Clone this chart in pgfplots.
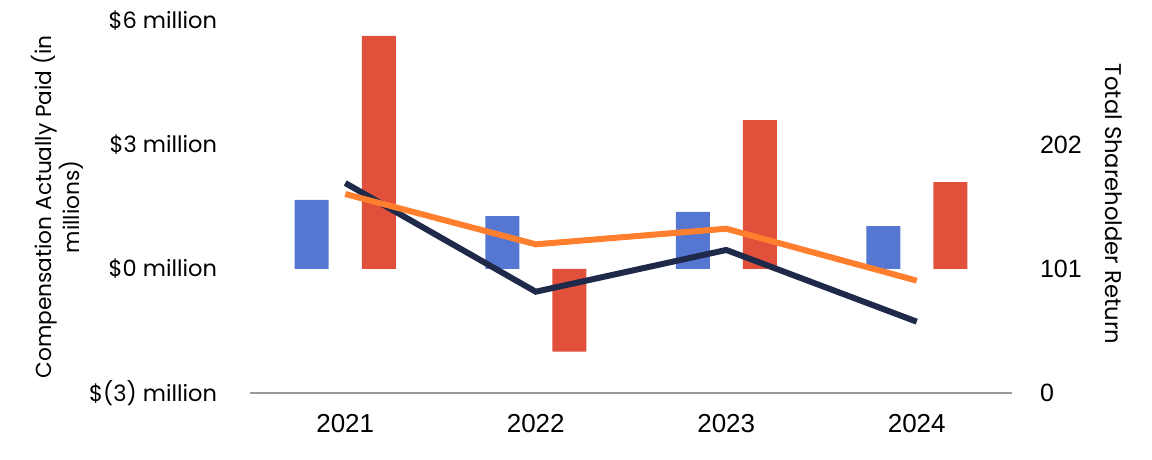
\documentclass[border=0pt]{standalone}
\usepackage{fontspec}
\setmainfont{Poppins}
\newfontfamily\numfont{Liberation Sans}
\usepackage{pgfplots}
\pgfplotsset{compat=1.18}
\definecolor{cblue}{HTML}{5577D1}
\definecolor{cred}{HTML}{E0503A}
\definecolor{cnavy}{HTML}{1F2A4B}
\definecolor{corange}{HTML}{FF7F2F}
\begin{document}
\begin{tikzpicture}
\path[use as bounding box] (0,0) rectangle (1152pt,460pt);
\pgfplotsset{
  every axis/.append style={
    scale only axis, width=762pt, height=372pt,
    at={(250pt,67pt)}, anchor=south west,
    xmin=-0.5, xmax=3.5, clip=false,
    major tick length=0pt, tick style={draw=none},
    /pgf/number format/assume math mode=true,
    font=\fontsize{22}{28.5}\selectfont,
  },
}
\begin{axis}[
  ymin=-3, ymax=6,
  axis x line*=bottom, axis y line*=left,
  y axis line style={draw=none},
  x axis line style={draw=black!40, line width=1.5pt, -},
  xtick={0,1,2,3}, xticklabels={2021,2022,2023,2024},
  xticklabel style={anchor=north, inner sep=0pt, outer sep=0pt, yshift=-21pt, font=\numfont\fontsize{26}{30}\selectfont},
  ytick={-3,0,3,6},
  yticklabels={\$(3) million,\$0 million,\$3 million,\$6 million},
  yticklabel style={anchor=east, inner sep=0pt, outer sep=0pt, xshift=-33pt, font=\fontsize{22.5}{28}\selectfont},
  ylabel={Compensation Actually Paid (in\\millions)},
  ylabel style={at={(axis description cs:-0.253,0.5)}, anchor=center, align=center, font=\fontsize{21.7}{28.5}\selectfont},
]
\addplot[ybar, bar width=34pt, bar shift=-33.5pt, fill=cblue, draw=none]
  coordinates {(0,1.67) (1,1.28) (2,1.38) (3,1.04)};
\addplot[ybar, bar width=34pt, bar shift=33.5pt, fill=cred, draw=none]
  coordinates {(0,5.64) (1,-2.00) (2,3.60) (3,2.10)};
\end{axis}
\begin{axis}[
  ymin=0, ymax=303,
  axis x line=none, axis y line*=right,
  y axis line style={draw=none},
  xtick=\empty,
  ytick={0,101,202},
  yticklabels={0,101,202},
  yticklabel style={anchor=west, inner sep=0pt, outer sep=0pt, xshift=28pt, font=\numfont\fontsize{25}{30}\selectfont},
  ylabel={Total Shareholder Return},
  ylabel style={at={(axis description cs:1.134,0.508)}, anchor=center, rotate=180, font=\fontsize{22.7}{28}\selectfont},
]
\addplot[cnavy, line width=6pt] coordinates {(0,171.0) (1,82.5) (2,116.5) (3,58.1)};
\addplot[corange, line width=6pt] coordinates {(0,162.1) (1,121.1) (2,133.8) (3,91.5)};
\end{axis}
\end{tikzpicture}
\end{document}
